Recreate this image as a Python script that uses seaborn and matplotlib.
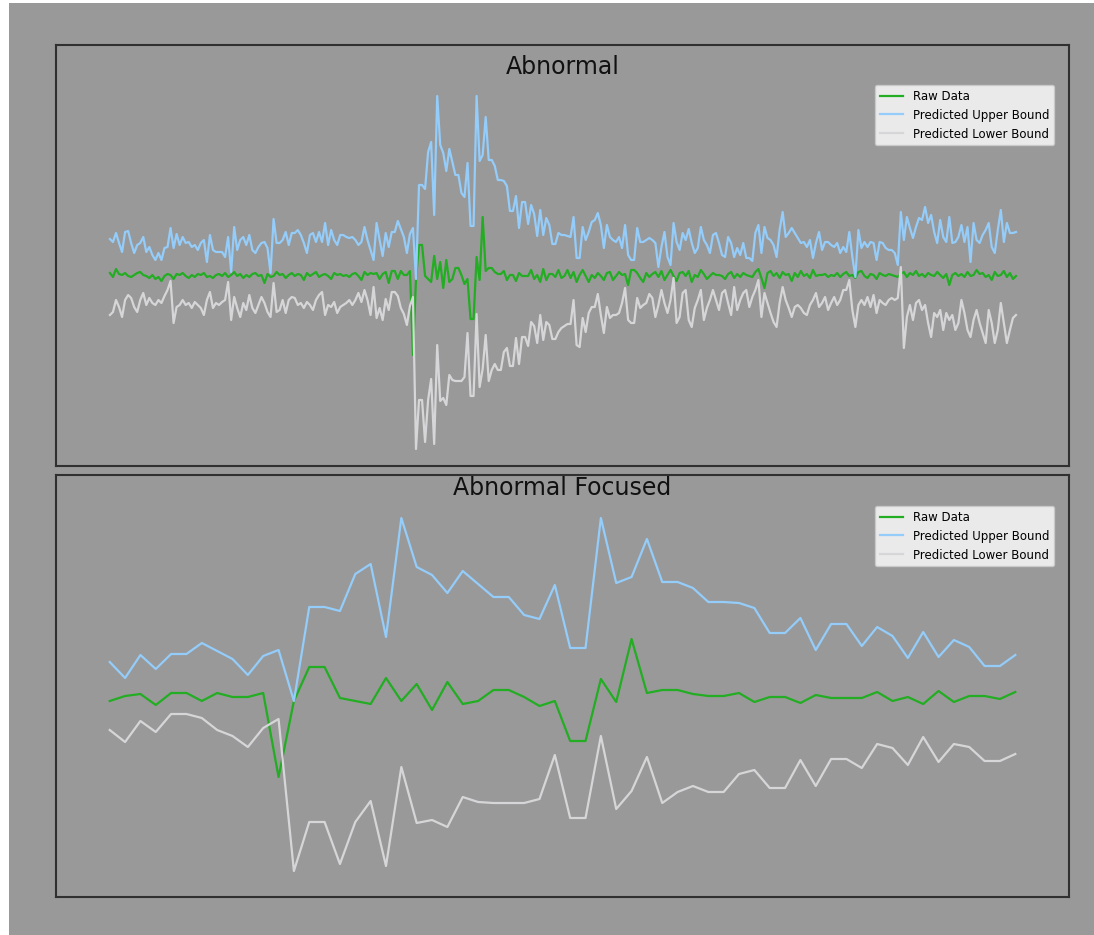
import matplotlib
matplotlib.use("Agg")
import matplotlib.pyplot as plt
from matplotlib.patches import Rectangle
import pandas as pd
import seaborn as sns

# values (no axis ticks, so units are arbitrary)
# full series = before + window + after, the window is the "focused" part
window_start = 89

raw_before = [0.5, 0.1, 0.9, 0.4, 0.3, 0.5, 0.2, 0.1, 0.3, 0.5,
              0.6, 0.3, 0.2, 0.0, 0.3, -0.1, 0.1, -0.3, 0.2, 0.4,
              0.3, -0.1, 0.4, 0.3, 0.5, 0.2, 0.0, 0.3, 0.1, 0.4,
              0.3, 0.5, 0.1, 0.2, 0.0, 0.3, 0.4, 0.2, 0.5, 0.1,
              0.3, 0.6, 0.2, 0.4, 0.0, 0.3, 0.1, 0.4, 0.5, 0.2,
              0.3, -0.5, 0.4, 0.1, 0.2, 0.6, 0.3, 0.4, 0.0, 0.3,
              0.5, 0.2, 0.4, 0.3, -0.2, 0.5, 0.2, 0.4, 0.6, 0.1,
              0.3, 0.4, 0.2, -0.1, 0.5, 0.3, 0.4, 0.2, 0.3, 0.1,
              0.4, 0.5, 0.2, -0.2, 0.6, 0.3, 0.5, 0.4, 0.5]
raw_window = [-0.1, 0.4, 0.6, -0.5, 0.7, 0.7, -0.1, 0.7, 0.3, 0.3,
              0.7, -7.7, -0.1, 3.3, 3.3, 0.2, -0.1, -0.4, 2.2, -0.1,
              1.6, -1.0, 1.8, -0.4, -0.1, 1.0, 1.0, 0.3, -0.6, -0.1,
              -4.1, -4.1, 2.1, -0.2, 6.1, 0.7, 1.0, 1.0, 0.6, 0.4,
              0.4, 0.7, -0.2, 0.3, 0.3, -0.3, 0.5, 0.2, 0.2, 0.2,
              0.8, -0.1, 0.3, -0.4, 0.9, -0.2, 0.4, 0.4, 0.1, 0.8]
raw_after = [0.0, 0.2, 0.8, 0.0, 0.6, -0.4, 0.3, 0.8, 0.2, -0.4,
             0.3, 0.0, 0.5, 0.2, -0.2, 0.5, 0.6, -0.2, 0.2, 0.6,
             0.3, 0.4, -0.7, 0.8, 0.8, 0.5, 0.0, -0.4, 0.5, 0.1,
             0.4, 0.6, 0.1, 0.7, -0.2, 0.3, 0.8, 0.2, -0.3, 0.5,
             0.6, 0.2, 0.7, -0.4, 0.3, 0.1, 0.8, 0.4, -0.1, 0.2,
             0.5, 0.3, 0.3, 0.2, -0.1, 0.4, 0.6, 0.0, 0.4, 0.1,
             0.5, 0.3, 0.2, 0.1, 0.6, 0.9, 0.0, -1.0, 0.5, 0.7,
             0.2, 0.5, 0.0, 0.6, 0.3, 0.4, -0.3, 0.5, 0.1, 0.7,
             0.2, 0.4, 0.0, 0.8, 0.2, 0.3, 0.3, 0.4, 0.1, 0.3,
             0.2, 0.5, 0.1, 0.4, 0.6, 0.2, 0.3, 0.0, 0.6, 0.7,
             0.2, 0.0, 0.4, 0.3, -0.1, 0.5, 0.3, 0.2, 0.4, 0.3,
             0.2, 0.1, 0.4, 0.6, 0.1, 0.5, 0.3, 0.7, 0.2, 0.4,
             0.1, 0.5, 0.3, 0.2, 0.6, 0.3, 0.0, 0.4, -0.7, 0.3,
             0.5, 0.2, 0.4, 0.1, 0.6, 0.2, 0.3, 0.8, 0.4, 0.5,
             0.1, 0.3, -0.2, 0.6, 0.2, 0.3, 0.7, 0.1, 0.5, -0.1,
             0.2]

upper_before = [3.9, 3.6, 4.5, 3.5, 2.6, 4.6, 4.7, 3.5, 2.5, 3.3,
                3.5, 4.1, 2.6, 3.1, 2.3, 1.8, 2.5, 1.8, 3.0, 3.1,
                5.0, 3.0, 4.4, 3.3, 4.1, 3.5, 3.6, 3.1, 3.3, 2.8,
                3.5, 3.8, 1.6, 4.3, 2.8, 2.6, 2.6, 2.6, 2.1, 4.1,
                0.6, 5.1, 2.8, 3.8, 4.1, 3.3, 4.3, 2.8, 2.5, 3.1,
                3.5, 3.6, 3.0, 0.5, 5.9, 3.5, 3.5, 3.8, 4.6, 3.3,
                4.5, 4.5, 4.8, 4.3, 3.5, 2.5, 4.3, 4.5, 3.6, 4.6,
                3.6, 5.5, 3.3, 4.8, 3.8, 3.3, 4.3, 4.3, 4.1, 4.0,
                4.1, 3.8, 3.3, 3.6, 5.1, 3.8, 2.8, 1.8, 5.5]
upper_window = [3.8, 2.2, 4.5, 3.1, 4.6, 4.6, 5.7, 4.9, 4.1, 2.5,
                4.4, 5.0, -0.1, 9.3, 9.3, 8.9, 12.6, 13.6, 6.3, 18.2,
                13.3, 12.5, 10.7, 12.9, 11.6, 10.3, 10.3, 8.5, 8.1, 11.5,
                5.2, 5.2, 18.2, 11.7, 12.3, 16.1, 11.8, 11.8, 11.2, 9.8,
                9.8, 9.7, 9.2, 6.7, 6.7, 8.2, 5.0, 7.6, 7.6, 5.4,
                7.3, 6.4, 4.2, 6.8, 4.3, 6.0, 5.3, 3.4, 3.4, 4.5]
upper_after = [4.3, 4.3, 4.2, 4.1, 6.1, 2.0, 2.0, 5.1, 3.8, 4.6,
               5.6, 5.8, 6.5, 5.3, 3.0, 5.3, 4.1, 3.8, 3.6, 4.1,
               3.0, 5.3, 2.3, 1.8, 1.8, 5.0, 3.6, 3.6, 3.8, 4.0,
               3.8, 3.5, 1.1, 3.1, 4.6, 2.1, 1.3, 5.5, 3.6, 2.8,
               4.5, 3.8, 4.9, 3.5, 2.5, 3.0, 5.1, 3.8, 3.3, 2.5,
               4.3, 4.5, 3.5, 2.3, 2.1, 4.1, 3.5, 2.1, 3.0, 2.3,
               3.5, 2.0, 2.0, 1.7, 4.5, 5.3, 2.5, 5.1, 4.0, 3.8,
               3.3, 2.1, 4.8, 6.6, 4.1, 4.5, 5.0, 4.5, 4.0, 3.5,
               3.6, 3.1, 3.8, 2.0, 3.5, 4.6, 2.8, 3.6, 3.6, 3.3,
               3.1, 3.5, 2.5, 3.1, 2.6, 4.6, 2.1, 0.1, 4.8, 3.0,
               3.6, 3.1, 3.6, 3.5, 1.8, 3.6, 3.5, 3.0, 2.8, 2.8,
               2.5, 1.3, 6.6, 3.8, 6.1, 5.0, 4.0, 5.1, 6.0, 5.8,
               7.1, 5.5, 6.3, 4.6, 3.5, 5.8, 4.1, 3.6, 6.1, 3.5,
               3.6, 4.1, 5.3, 3.6, 5.1, 1.6, 5.5, 3.8, 3.5, 4.3,
               4.8, 5.5, 3.1, 2.5, 4.8, 6.8, 3.6, 5.5, 4.5, 4.5,
               4.6]

lower_before = [-3.7, -3.4, -2.2, -2.9, -3.9, -2.2, -1.7, -2.0, -2.9, -3.4,
                -2.2, -1.5, -2.7, -2.0, -2.5, -2.7, -2.2, -2.5, -1.8, -1.2,
                -0.3, -4.5, -2.9, -2.7, -2.2, -2.7, -2.5, -3.0, -2.4, -2.7,
                -3.0, -3.7, -2.2, -1.4, -3.0, -2.5, -2.7, -2.4, -2.2, -0.4,
                -4.2, -1.9, -3.0, -3.9, -2.5, -3.2, -1.7, -3.0, -3.5, -2.7,
                -1.9, -2.5, -3.4, -3.9, -0.5, -3.4, -3.2, -2.2, -3.5, -2.2,
                -1.9, -2.0, -2.7, -2.5, -3.0, -2.4, -2.7, -3.2, -2.2, -1.7,
                -1.4, -3.7, -2.7, -2.9, -2.4, -3.5, -2.9, -2.7, -2.5, -2.2,
                -2.7, -2.2, -1.5, -2.4, -1.2, -2.2, -3.7, -0.9, -4.0]
lower_window = [-3.0, -4.2, -2.1, -3.2, -1.4, -1.4, -1.8, -3.0, -3.6, -4.7,
                -2.8, -1.9, -17.1, -12.2, -12.2, -16.4, -12.2, -10.1, -16.6, -6.7,
                -12.3, -12.0, -12.7, -9.7, -10.2, -10.3, -10.3, -10.3, -9.9, -5.5,
                -11.8, -11.8, -3.6, -10.9, -9.1, -5.7, -10.3, -9.2, -8.6, -9.2,
                -9.2, -7.4, -7.0, -8.8, -8.8, -6.0, -8.6, -5.9, -5.9, -6.8,
                -4.4, -4.8, -6.5, -3.7, -6.2, -4.4, -4.7, -6.1, -6.1, -5.4]
lower_after = [-5.0, -4.8, -4.6, -4.6, -2.2, -6.7, -6.9, -4.0, -5.4, -3.5,
               -2.9, -2.9, -1.6, -3.7, -5.5, -2.9, -4.0, -3.7, -3.7, -3.5,
               -2.5, -1.0, -4.2, -4.5, -4.5, -2.0, -3.0, -2.7, -2.5, -1.6,
               -2.0, -3.9, -2.7, -1.2, -2.5, -3.5, -2.2, 0.0, -4.5, -3.9,
               -1.5, -1.2, -4.2, -4.9, -3.0, -2.2, -1.2, -4.2, -3.0, -2.2,
               -1.2, -2.2, -3.2, -1.5, -1.2, -2.5, -3.7, -0.9, -3.2, -2.2,
               -1.5, -1.2, -2.9, -1.9, -1.2, -0.2, -3.9, -1.5, -2.5, -3.5,
               -4.4, -4.9, -2.5, -0.9, -2.2, -3.0, -3.9, -2.9, -2.7, -3.0,
               -3.5, -3.7, -2.7, -2.2, -1.5, -2.9, -2.5, -1.9, -3.2, -2.5,
               -1.9, -2.7, -2.2, -1.2, -1.2, -0.2, -3.2, -4.9, -2.7, -2.2,
               -2.7, -1.9, -2.9, -1.7, -3.5, -2.2, -2.5, -2.7, -2.2, -2.0,
               -2.2, -2.0, 1.1, -7.0, -3.9, -2.7, -4.2, -2.5, -2.2, -3.2,
               -2.7, -4.5, -5.9, -3.5, -3.9, -3.2, -5.2, -3.5, -4.2, -3.7,
               -5.2, -4.5, -2.2, -3.5, -5.2, -5.9, -4.2, -3.2, -4.5, -5.5,
               -6.5, -3.2, -4.5, -6.5, -5.2, -2.5, -4.5, -6.5, -5.2, -4.0,
               -3.7]

labels = ["Raw Data", "Predicted Upper Bound", "Predicted Lower Bound"]
colors = ["#22ad22", "#94ccfa", "#d6d6d8"]
bg = "#999999"

raw = raw_before + raw_window + raw_after
upper = upper_before + upper_window + upper_after
lower = lower_before + lower_window + lower_after

df = pd.DataFrame({"t": range(len(raw)), "raw": raw, "upper": upper, "lower": lower})
focus = df.iloc[window_start:window_start + len(raw_window)]

plt.rcParams["font.family"] = ["DejaVu Sans"]

fig = plt.figure(figsize=(10.94, 9.35), dpi=100, facecolor="white")
fig.add_artist(Rectangle((9 / 1094, 0), 1, 932 / 935, transform=fig.transFigure,
                         facecolor=bg, edgecolor="none", zorder=-10))

ax_top = fig.add_axes([56 / 1094, 1 - 466 / 935, 1013 / 1094, 421 / 935])
ax_bot = fig.add_axes([56 / 1094, 1 - 897 / 935, 1013 / 1094, 422 / 935])


def draw_panel(ax, data, title, title_y, legend_y):
    for col, lab, c in zip(["raw", "upper", "lower"], labels, colors):
        sns.lineplot(x=data["t"], y=data[col], label=lab, color=c, linewidth=1.6, ax=ax)
    ax.set_facecolor(bg)
    ax.set_xticks([])
    ax.set_yticks([])
    ax.set_xlabel("")
    ax.set_ylabel("")
    for s in ax.spines.values():
        s.set_color("#303030")
        s.set_linewidth(1.5)
    ax.set_title(title, fontsize=17, y=title_y, pad=0, color="#111111")
    ax.legend(loc="upper right", bbox_to_anchor=(1 - 15 / 1013, legend_y),
              borderaxespad=0, fontsize=8.5, framealpha=0.8)


draw_panel(ax_top, df, "Abnormal", 1 - 29 / 421, 1 - 40 / 421)
ax_top.set_xlim(-17.8, 316.5)
ax_top.set_ylim(-18.8, 23.3)

draw_panel(ax_bot, focus, "Abnormal Focused", 1 - 20 / 422, 1 - 31 / 422)
ax_bot.set_xlim(window_start - 3.5, window_start + 62.5)
ax_bot.set_ylim(-19.7, 22.5)

fig.savefig("out.png", dpi=100, facecolor=fig.get_facecolor())
